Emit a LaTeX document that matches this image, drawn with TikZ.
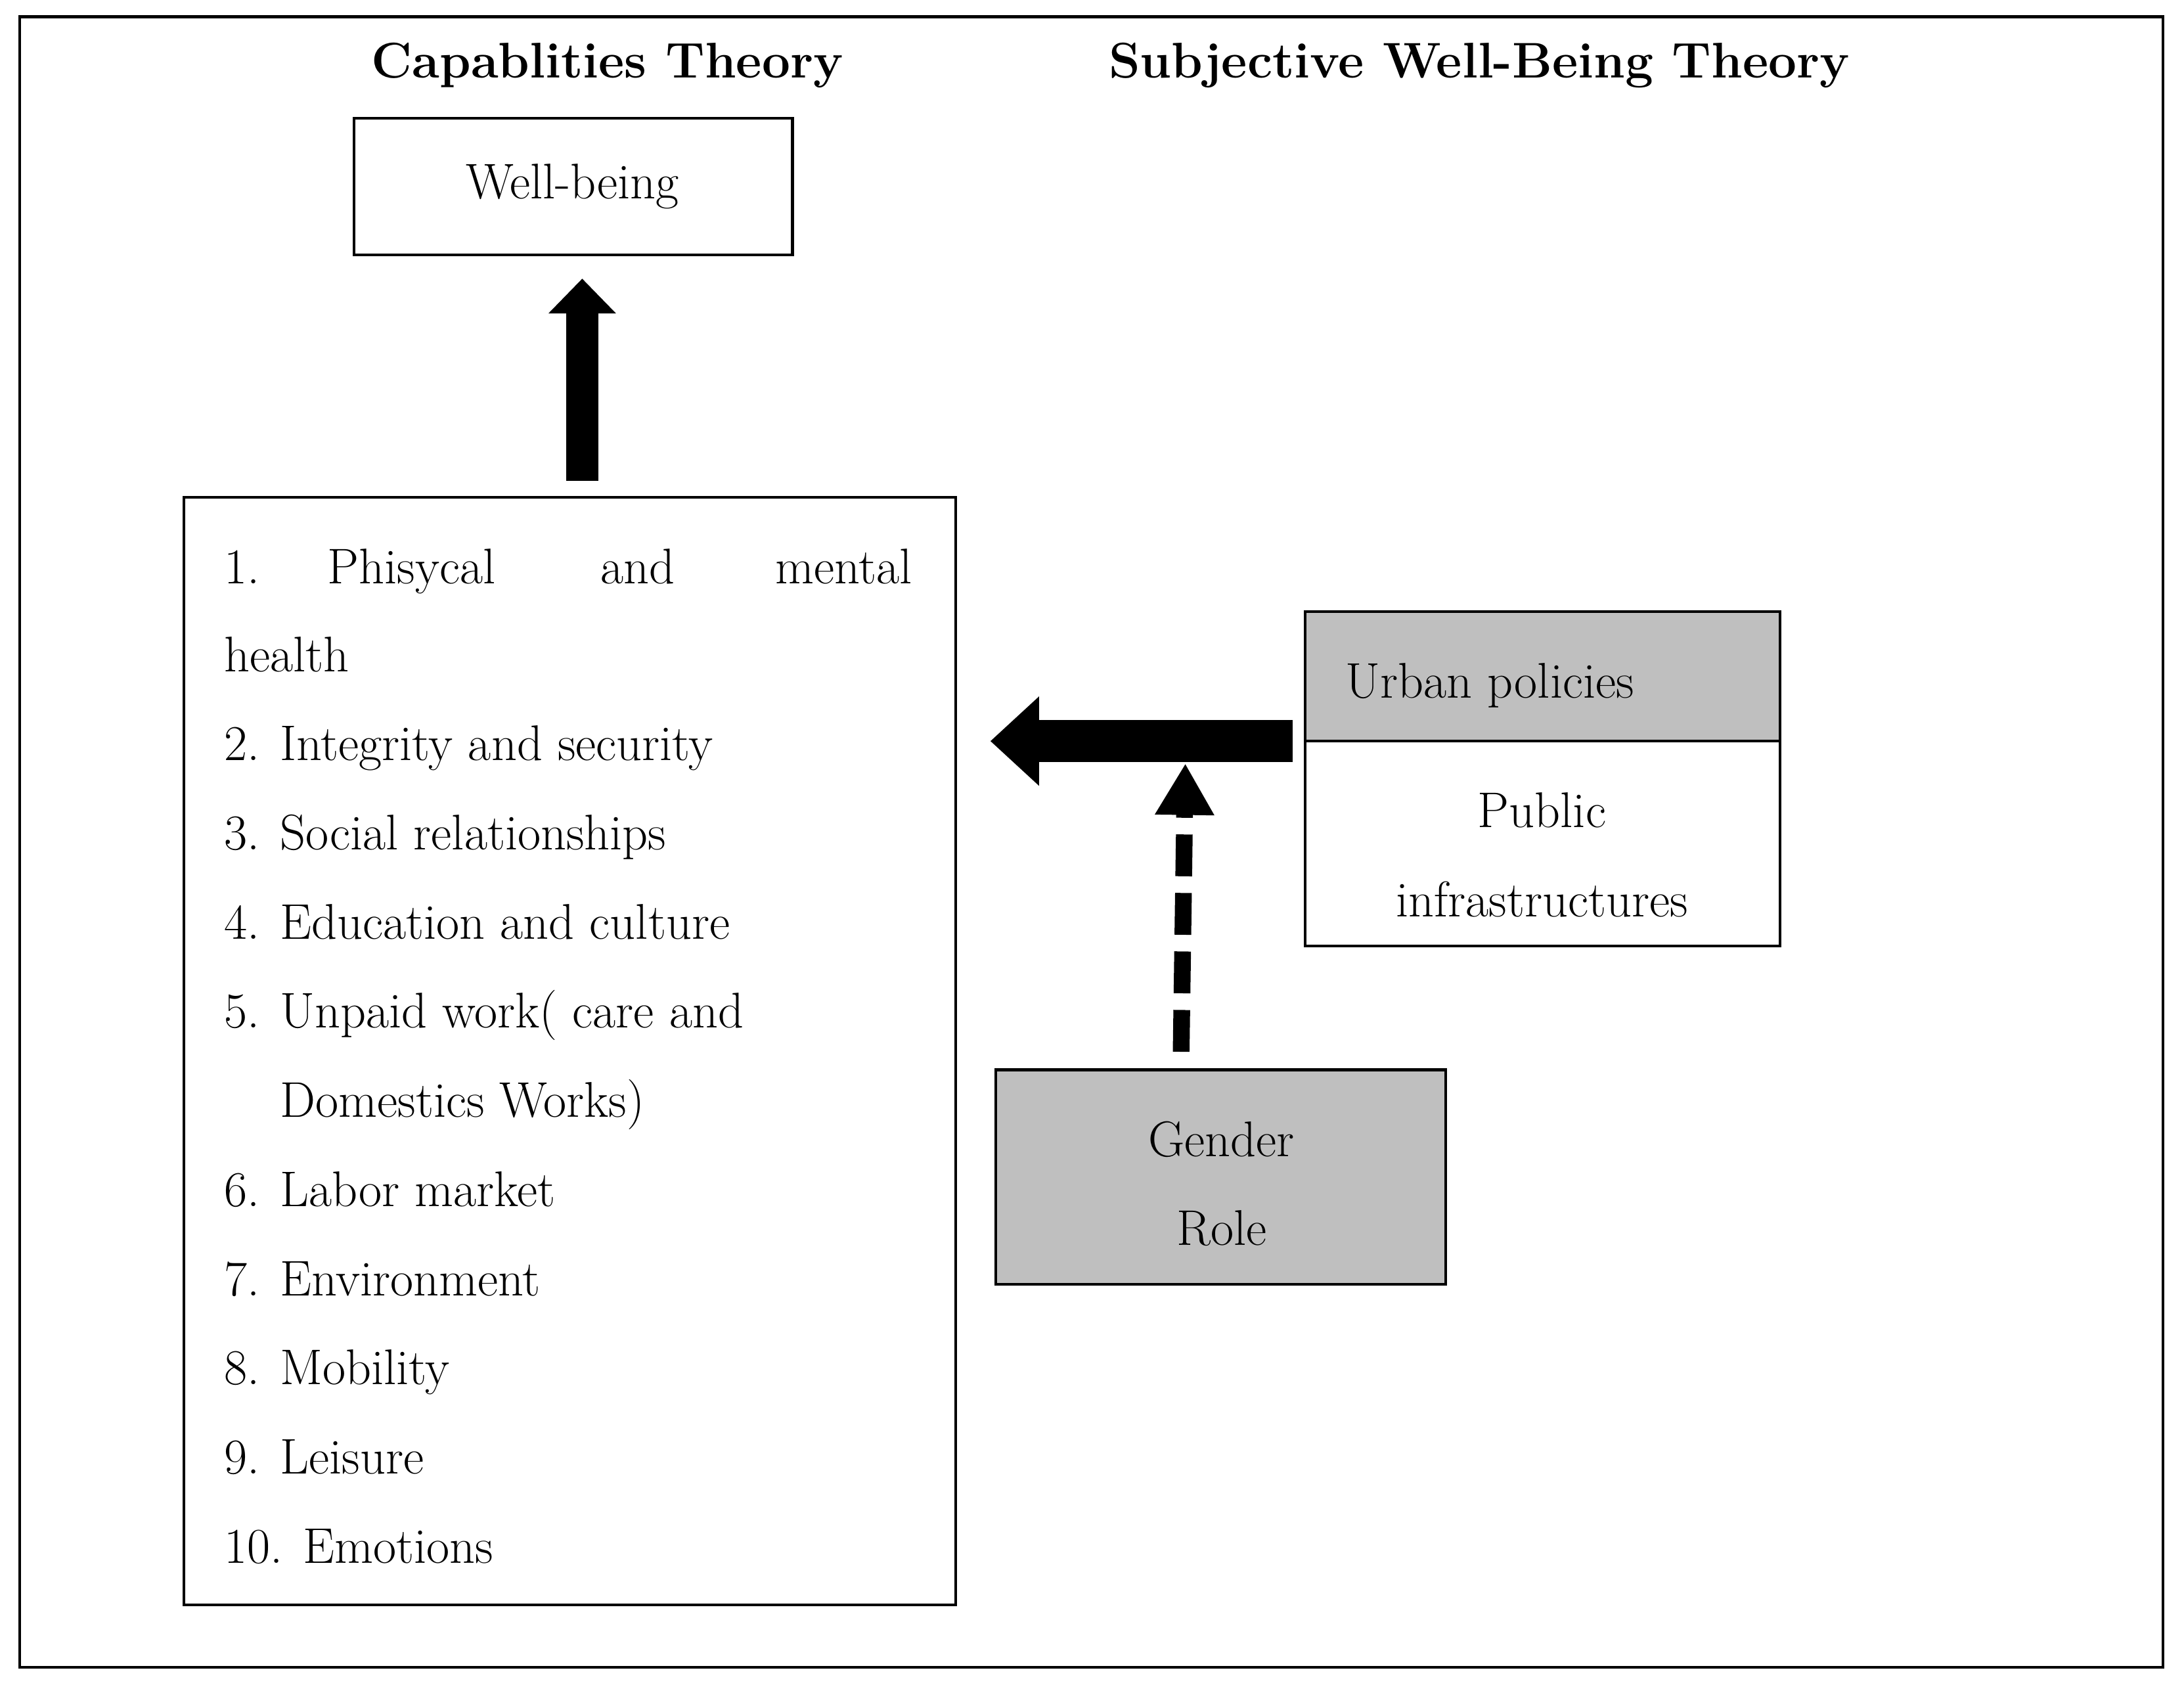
\documentclass[tikz,border=0pt]{standalone}
\usetikzlibrary{arrows.meta}
\begin{document}
\begin{tikzpicture}[x=1pt,y=-1pt,
  txt/.style={font=\fontsize{36}{64}\selectfont, inner sep=0pt, anchor=base west},
  bx/.style={draw, line width=2pt},
  gray/.style={fill=black!25}]
\useasboundingbox (0,0) rectangle (1568,1211);
\draw[line width=2pt] (14,12) rectangle (1553,1197);
\node[font=\fontsize{36}{40}\selectfont\bfseries] (t1) at (436,47) {Capablities Theory};
\node[font=\fontsize{36}{40}\selectfont\bfseries] (t2) at (1062,47) {Subjective Well-Being Theory};
\draw[bx] (254,85) rectangle (569,183);
\node[font=\fontsize{36}{40}\selectfont] (wb) at (411,134) {Well-being};
\draw[bx] (132,357) rectangle (686,1152);
\foreach \t/\y in {{2. Integrity and security}/546, {3. Social relationships}/610, {4. Education and culture}/674, {5. Unpaid work( care and}/738, {6. Labor market}/866, {7. Environment}/930, {8. Mobility}/994, {9. Leisure}/1058, {10. Emotions}/1122}
  \node[txt] at (161,\y) {\t};
\node[txt] (l1) at (161,419) {1.};
\node[txt] at (235,419) {Phisycal};
\node[txt,anchor=base] at (458,419) {and};
\node[txt,anchor=base east] at (655,419) {mental};
\node[txt] at (161,482) {health};
\node[txt] at (201,802) {Domestics Works)};
\draw[bx,gray] (937,439) rectangle (1278,532);
\node[txt] (up) at (966,501) {Urban policies};
\draw[bx] (937,532) rectangle (1278,679);
\node[txt,anchor=base] (pi) at (1107,594) {Public};
\node[txt,anchor=base] at (1107,658) {infrastructures};
\draw[bx,gray] (715,768) rectangle (1038,922);
\node[txt,anchor=base] (g) at (877,830) {Gender};
\node[txt,anchor=base] at (877,894) {Role};
\coordinate (a1s) at (418,345); \coordinate (a1e) at (418,200);
\draw[line width=23pt,-{Triangle[width=47pt,length=25pt]}] (a1s) -- (a1e);
\coordinate (a2s) at (928,532); \coordinate (a2e) at (711,532);
\draw[line width=30pt,-{Triangle[width=62pt,length=35pt]}] (a2s) -- (a2e);
\coordinate (a3s) at (848,755); \coordinate (a3e) at (851,548);
\draw[line width=12pt,dash pattern=on 30pt off 12pt,-{Triangle[width=40pt,length=37pt]}] (a3s) -- (a3e);
\end{tikzpicture}
\end{document}
